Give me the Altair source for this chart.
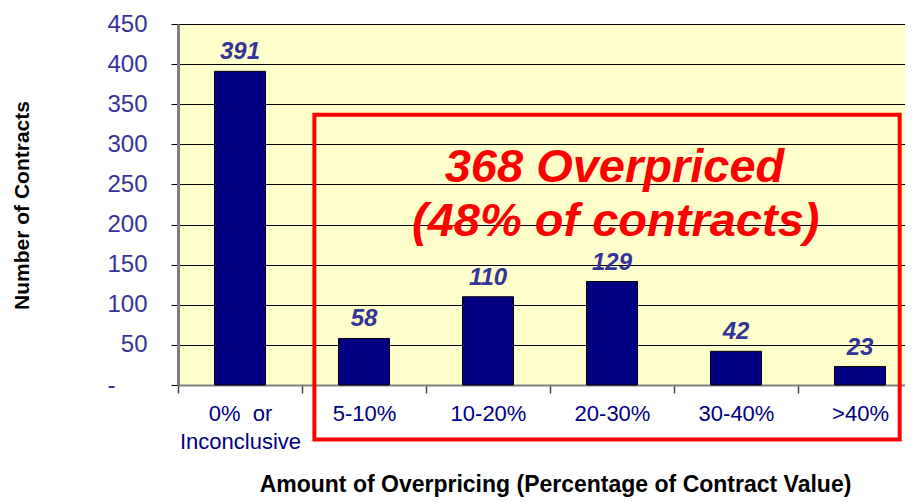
import altair as alt
import pandas as pd

categories = ["0%\u00a0\u00a0or|Inconclusive", "5-10%", "10-20%", "20-30%", "30-40%", ">40%"]
counts = [391, 58, 110, 129, 42, 23]
y_ticks = [0, 50, 100, 150, 200, 250, 300, 350, 400, 450]
box_text = ["368 Overpriced", "(48% of contracts)"]
box_text_y = [270, 203]
box_text_x = [3.52, 3.53]
box_x = [1.1, 5.82]
box_y = [-68, 337]

FONT = "Liberation Sans"
NAVY = "#000080"
LABEL_BLUE = "#333399"

df = pd.DataFrame({"cat": categories, "n": counts})
df_txt = pd.DataFrame({"t": box_text, "y": box_text_y, "x": box_text_x})
df_box = pd.DataFrame({"x": [box_x[0]], "x2": [box_x[1]], "y": [box_y[0]], "y2": [box_y[1]]})

xscale = alt.Scale(domain=categories, range=[0, 744], paddingInner=0, paddingOuter=0)
yscale = alt.Scale(domain=[0, 450], nice=False, zero=False)
qx = alt.Scale(domain=[0, 6], range=[0, 744], nice=False, zero=False)

xaxis = alt.Axis(title="Amount of Overpricing (Percentage of Contract Value)",
                 labelAngle=0, labelExpr="split(datum.label, '|')",
                 labelColor=NAVY, labelFont=FONT, labelFontSize=22,
                 labelLineHeight=28, labelPadding=10, labelBaseline="top",
                 tickBand="extent", tickSize=8, tickColor="#444444", tickWidth=1.5,
                 domainColor="#808080", domainWidth=2,
                 titleFont=FONT, titleFontSize=23, titleFontWeight="bold",
                 titleColor="black", titleX=377, titleY=88,
                 titleBaseline="top")
yaxis = alt.Axis(title="Number of Contracts", values=y_ticks,
                 labelExpr="datum.value == 0 ? '-' : datum.label",
                 labelColor=LABEL_BLUE, labelFont=FONT, labelFontSize=24,
                 labelPadding={"condition": {"test": "datum.value == 0", "value": 56}, "value": 24},
                 tickSize=7, tickColor="black",
                 domainColor="#808080", domainWidth=3,
                 grid=True, gridColor="black", gridWidth=1, gridOpacity=1,
                 titleFont=FONT, titleFontSize=21, titleFontWeight="bold",
                 titleColor="black", titleX=-156, titleY=181,
                 titleAngle=-90, titleAlign="center", titleBaseline="middle")

bars = alt.Chart(df).mark_bar(size=51, color=NAVY, stroke="black", strokeWidth=1).encode(
    x=alt.X("cat:N", sort=categories, scale=xscale, axis=xaxis),
    y=alt.Y("n:Q", scale=yscale, axis=yaxis),
)

labels = alt.Chart(df).mark_text(font=FONT, fontSize=24, fontWeight="bold", fontStyle="italic",
                                 color=LABEL_BLUE, baseline="bottom", dy=-7).encode(
    x=alt.X("cat:N", sort=categories, scale=xscale),
    y=alt.Y("n:Q", scale=yscale),
    text="n:Q",
)

box = alt.Chart(df_box).mark_rect(filled=False, stroke="#FF0000", strokeWidth=4, clip=False).encode(
    x=alt.X("x:Q", scale=qx, axis=None),
    x2="x2:Q",
    y=alt.Y("y:Q", scale=yscale),
    y2="y2:Q",
)

btxt = alt.Chart(df_txt).mark_text(font=FONT, fontSize=47, fontWeight="bold", fontStyle="italic",
                                   color="#FF0000", baseline="middle").encode(
    x=alt.X("x:Q", scale=qx, axis=None),
    y=alt.Y("y:Q", scale=yscale),
    text="t:N",
)

chart = alt.layer(
    alt.layer(bars, labels),
    alt.layer(box, btxt),
).resolve_scale(x="independent").properties(
    width=727, height=361,
    autosize=alt.AutoSizeParams(type="none"),
    padding={"left": 170, "top": 16, "right": 0, "bottom": 115},
    background="white",
).configure_view(fill="#FFFFCC", stroke=None)

chart.save("out.html", embed_options={"renderer": "svg", "actions": False})
